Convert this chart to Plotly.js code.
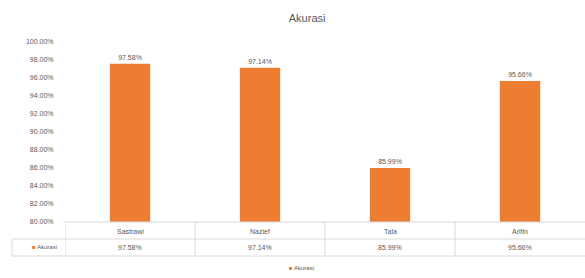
<!DOCTYPE html>
<html>
<head>
<meta charset="utf-8">
<script src="https://cdn.plot.ly/plotly-3.0.1.min.js"></script>
<style>html,body{margin:0;padding:0;background:#fff;}#chart{width:585px;height:278px;}</style>
</head>
<body>
<div id="chart"></div>
<script>
const categories = ["Sastrawi", "Nazief", "Tala", "Arifin"];
const akurasi = [97.58, 97.14, 85.99, 95.66];
const seriesName = "Akurasi";
const yTicks = [80, 82, 84, 86, 88, 90, 92, 94, 96, 98, 100];

const orange = "#ED7D31";
const gray = "#595959";
const lineGray = "#D9D9D9";
const fontFam = "Liberation Sans, Arial, sans-serif";
const fmt = v => v.toFixed(2) + "%";

const trace = {
  type: "bar",
  x: categories.map((c, i) => i),
  y: akurasi,
  name: seriesName,
  marker: {color: orange},
  text: akurasi.map(fmt),
  textposition: "outside",
  textfont: {size: 7, color: gray, family: fontFam},
  cliponaxis: false,
  hoverinfo: "skip"
};

const plotTop = 42, plotH = 180;
const py = px => (plotTop + plotH - px) / plotH;

const annotations = [];
categories.forEach((c, i) => {
  annotations.push({x: i, xref: "x", y: py(231), yref: "paper", text: c, showarrow: false,
    font: {size: 7, color: gray, family: fontFam}, yanchor: "middle"});
  annotations.push({x: i, xref: "x", y: py(247), yref: "paper", text: fmt(akurasi[i]), showarrow: false,
    font: {size: 7, color: gray, family: fontFam}, yanchor: "middle"});
});
const key = '<span style="color:' + orange + '">■</span> ' + seriesName;
annotations.push({x: -0.5, xref: "x", xanchor: "right", xshift: -6, y: py(247), yref: "paper",
  text: key, showarrow: false, font: {size: 6, color: gray, family: fontFam}, yanchor: "middle"});
// bottom legend
annotations.push({x: 0.455, xref: "paper", xanchor: "center", y: py(268), yref: "paper",
  text: key, showarrow: false, font: {size: 6, color: gray, family: fontFam}, yanchor: "middle"});

const shapes = [];
const lineStyle = {color: lineGray, width: 1};
shapes.push({type: "line", xref: "x", yref: "paper", x0: -0.5, x1: 3.5, y0: py(222), y1: py(222), line: lineStyle});
shapes.push({type: "line", xref: "paper", yref: "paper", x0: -0.102, x1: 1, y0: py(239), y1: py(239), line: lineStyle});
shapes.push({type: "line", xref: "paper", yref: "paper", x0: -0.102, x1: 1, y0: py(256), y1: py(256), line: lineStyle});
for (let k = 0; k <= 3; k++) {
  shapes.push({type: "line", xref: "x", yref: "paper", x0: k - 0.5, x1: k - 0.5, y0: py(222), y1: py(256), line: lineStyle});
}
shapes.push({type: "line", xref: "paper", yref: "paper", x0: -0.102, x1: -0.102, y0: py(239), y1: py(256), line: lineStyle});

const layout = {
  width: 585, height: 278,
  margin: {l: 65, r: 0, t: plotTop, b: 278 - plotTop - plotH},
  paper_bgcolor: "#fff", plot_bgcolor: "#fff",
  title: {text: "Akurasi", x: 0.525, xanchor: "center", y: 0.935, yanchor: "middle",
    font: {size: 11, color: gray, family: fontFam}},
  bargap: 0.69,
  showlegend: false,
  xaxis: {range: [-0.5, 3.5], showticklabels: false, showgrid: false, zeroline: false,
    showline: false, ticks: "", fixedrange: true},
  yaxis: {range: [80, 100], tickvals: yTicks, ticktext: yTicks.map(fmt), showgrid: false,
    zeroline: false, showline: false, ticks: "outside", ticklen: 9, tickcolor: "rgba(0,0,0,0)",
    tickfont: {size: 7, color: gray, family: fontFam}, fixedrange: true},
  annotations: annotations,
  shapes: shapes
};

Plotly.newPlot("chart", [trace], layout, {displayModeBar: false, staticPlot: true});
</script>
</body>
</html>
